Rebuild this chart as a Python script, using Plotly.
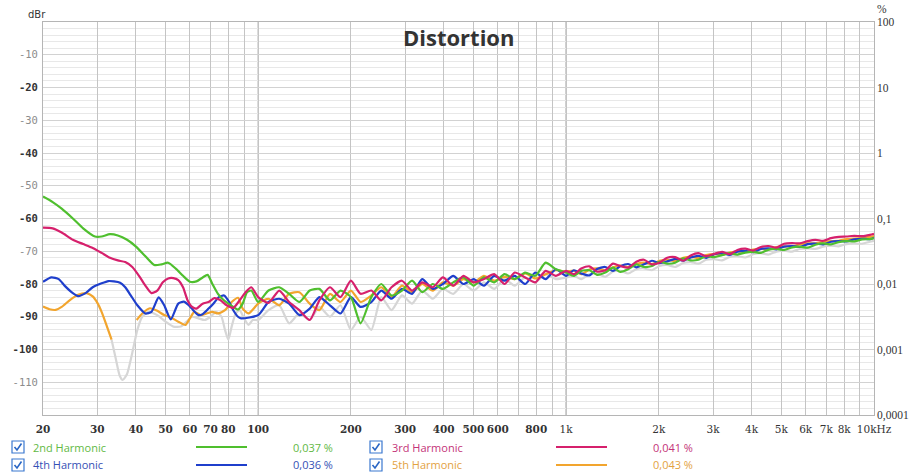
import math
import plotly.graph_objects as go

# ---------------- data ----------------
F_HI = [100, 108, 117, 126, 136, 147, 158, 171, 185, 200, 215, 233, 251, 271, 293,
        316, 341, 369, 398, 430, 464, 501, 541, 584, 631, 681, 736, 794, 858, 926,
        1000, 1060, 1120, 1190, 1260, 1340, 1420, 1500, 1590, 1690, 1790, 1900, 2010,
        2130, 2260, 2400, 2540, 2690, 2850, 3030, 3210, 3400, 3600, 3820, 4050, 4290,
        4550, 4820, 5110, 5420, 5740, 6090, 6450, 6840, 7250, 7680, 8140, 8630, 9150,
        9700, 10000]

# 2nd harmonic
H2_LO_F = [20, 21.5, 23, 25, 27, 29.5, 31, 33, 35, 37.5, 40, 43, 46, 48.5, 51, 54, 57,
           60, 63, 66, 68.5, 71, 74, 77, 80, 83, 86, 89, 92, 95]
H2_LO_DB = [-53.3, -55, -57, -60, -63, -65.5, -65.5, -64.8, -65.2, -66.5, -68.5, -71.5,
            -74.2, -74.0, -73.5, -75.3, -77.5, -79.3, -79.2, -78, -77.2, -80, -83, -84.8,
            -86, -87, -87.8, -86, -82.5, -82]
H2_HI_DB = [-85.5, -82, -81, -83, -85.5, -82, -81.5, -85, -82, -84, -92, -84, -80, -83.5,
            -82, -79, -82.5, -80, -81.5, -79.5, -78, -80.5, -78, -79.5, -77, -78.5, -76.5,
            -77.5, -73.5, -75.5,
            -76.5, -77.5, -76, -75.8, -77.2, -76.5, -75, -76.3, -75.5, -74, -74.8, -74.5,
            -73.2, -73.8, -73.5, -72.2, -72.8, -72.6, -71.5, -71.8, -71.2, -70.6, -71,
            -70.4, -70.2, -70.5, -69.5, -69.3, -69.6, -68.8, -68.6, -68.9, -68, -67.6,
            -67.9, -67.2, -66.9, -67, -66.4, -66.3, -66]

# 3rd harmonic
H3_LO_F = [20, 21.5, 23, 25, 27, 29, 31, 33, 35, 37, 39, 41, 43, 45, 47, 49, 51, 53, 55,
           57, 59, 61, 63, 66, 69, 72, 75, 79, 83, 87, 91, 95]
H3_LO_DB = [-62.8, -63, -64.3, -66.5, -67.8, -69, -70.5, -72, -72.8, -73.3, -74.8, -77.5,
            -80.5, -82.8, -82, -79.5, -78.3, -78.2, -78.8, -81, -85, -87, -87.5, -86,
            -85.5, -84.3, -84.8, -86.5, -87.3, -85, -82.5, -81]
H3_HI_DB = [-84, -85.8, -82, -85.5, -88, -91, -85, -81, -84, -79, -83, -82, -85, -81, -79,
            -82, -79.5, -81, -78, -80.5, -77.5, -79.5, -78.5, -77, -80, -76.5, -78, -79.5,
            -76, -77.5,
            -76, -77, -75.3, -74.6, -76.2, -75.8, -73.8, -74.5, -75, -73.2, -72.6, -74,
            -73.5, -72, -71.8, -72.9, -71.3, -70.6, -71.5, -70.8, -70.2, -70.9, -69.6,
            -69.2, -69.8, -68.7, -68.4, -68.9, -67.7, -67.5, -67.6, -66.9, -66.5, -66.8,
            -66, -65.6, -65.5, -65.3, -65.4, -65, -64.7]

# 4th harmonic
H4_LO_F = [20, 21.3, 22.5, 23.5, 25, 26, 27.5, 29, 31, 32.6, 34, 35.6, 37, 38.5, 40.5, 43,
           45, 47.5, 49.5, 52, 55, 57.3, 59.5, 61.5, 64, 66, 69, 71.5, 74.5, 77.5, 80.5,
           83, 86, 88]
H4_LO_DB = [-79.3, -78, -78.5, -80.5, -82.8, -83.7, -82.8, -81, -79.8, -79.1, -79.2, -79.6,
            -81, -83.4, -86.5, -89, -88.5, -84.1, -86.5, -90.8, -86, -85.4, -86.5, -88,
            -89.5, -89.2, -87.5, -86, -84, -83.5, -85.5, -88, -90, -90.5]
H4_HI_DB = [-89.5, -85.5, -84.5, -86, -89.5, -87.5, -84, -86.5, -89, -84, -87, -85.5, -82,
            -84.5, -81.5, -83, -78.5, -81.5, -80, -77.5, -80, -78.5, -80.5, -77.5, -79,
            -77.5, -80, -76.5, -78.5, -75.5,
            -77.5, -75.8, -76.8, -77.4, -75.4, -74.8, -76, -74.6, -73.9, -74.9, -74,
            -72.9, -73.6, -73.1, -72.3, -72.9, -71.9, -71.4, -72, -70.9, -70.6, -71.1,
            -70.1, -69.9, -70.3, -69.3, -69.1, -69.4, -68.6, -68.4, -68.7, -67.8, -67.7,
            -67.9, -67.1, -66.9, -67, -66.4, -66.2, -66.3, -65.9]

# 5th harmonic (None = gap where the trace drops below the noise)
H5_LO_F = [20, 21, 22, 23, 24.4, 26, 27.7, 29, 30.1, 31, 32, 33.4, 36.5, 40.3, 42, 44.5,
           47, 49.5, 52, 55, 58, 60, 62, 65, 68, 71, 74, 78, 82, 86, 89, 93]
H5_LO_DB = [-86.9, -87.7, -87.9, -87, -85, -83.3, -82.8, -83.8, -85.9, -88.5, -92, -97,
            None, -91, -89, -87.4, -88.2, -89.5, -90.2, -91.5, -92.5, -90.5, -88.5, -89.5,
            -89, -88.5, -89, -88, -85.5, -84.2, -87.5, -89]
H5_HI_DB = [-86, -84.5, -86.5, -83, -82.5, -86, -88, -83, -85.5, -82, -85.5, -83.5, -81,
            -84, -80.5, -82.5, -80, -82, -79.5, -80.5, -78.5, -79.5, -77.5, -79, -77.8,
            -78.5, -76.8, -78.3, -77, -75.8,
            -76.2, -75.9, -77, -75.6, -75.2, -75.9, -74.9, -74.4, -74.8, -73.9, -73.5,
            -73.9, -72.9, -72.6, -73, -72, -71.7, -72.1, -71.2, -70.9, -71.1, -70.4, -70,
            -70.2, -69.5, -69.3, -69.4, -68.7, -68.5, -68.6, -67.9, -67.6, -67.6, -67.1,
            -66.9, -66.8, -66.3, -66.1, -66, -65.6, -65.4]

# grey (noise-limited) trace
GR_LO_F = [33.4, 34.5, 35.5, 36.3, 37.5, 39, 40.5, 42, 44, 47, 50, 53, 56, 58.5, 61, 64,
           67, 70, 73, 76, 78, 80, 82, 84.5, 87, 90, 93, 96]
GR_LO_DB = [-97, -103, -108, -109.3, -107.5, -101, -94, -90, -88.5, -89.5, -91.5, -93,
            -93, -91.5, -90, -90.5, -91, -90, -88.5, -90, -94, -97, -93, -89, -88, -90.5,
            -92.5, -91]
GR_HI_DB = [-91, -88, -86.5, -92, -89, -91, -87, -90, -86.5, -94, -90, -94, -84, -88,
            -83.5, -86, -82, -84.5, -81.5, -83, -80, -82, -79.5, -81.5, -78.5, -80.5, -78,
            -79.5, -77, -78.5,
            -78, -77.5, -78.5, -77, -76.8, -77.8, -76.2, -76, -76.8, -75.5, -75.2, -75.8,
            -74.5, -74.2, -74.8, -73.6, -73.3, -73.8, -72.6, -72.4, -72.8, -71.7, -71.5,
            -71.9, -70.9, -70.6, -71, -70.1, -69.8, -70.1, -69.3, -69.1, -69.3, -68.6,
            -68.3, -68.5, -67.8, -67.6, -67.7, -67.1, -66.8]

SERIES_NAMES = ['2nd Harmonic', '3rd Harmonic', '4th Harmonic', '5th Harmonic']
SERIES_VALUES = ['0,037 %', '0,041 %', '0,036 %', '0,043 %']

X_TICKS = [20, 30, 40, 50, 60, 70, 80, 90, 100, 200, 300, 400, 500, 600, 700, 800, 900,
           1000, 2000, 3000, 4000, 5000, 6000, 7000, 8000, 9000, 10000]
X_LABELS = ['20', '30', '40', '50', '60', '70', '80', '', '100', '200', '300', '400',
            '500', '600', '', '800', '', '1k', '2k', '3k', '4k', '5k', '6k', '7k', '8k', '',
            '10kHz']
Y_TICKS = [-110, -100, -90, -80, -70, -60, -50, -40, -30, -20, -10]
PCT_TICKS = [100, 10, 1, 0.1, 0.01, 0.001, 0.0001]
PCT_LABELS = ['100', '10', '1', '0,1', '0,01', '0,001', '0,0001']

# ---------------- styling ----------------
W, H = 910, 476
L, R, T, B = 43, 36, 22, 61
PW, PH = W - L - R, H - T - B
XMIN, XMAX = math.log10(20), 4.0

C_GREEN = '#4fbf2e'
C_RED = '#d6206c'
C_BLUE = '#1f3fcc'
C_ORANGE = '#f2a52e'
C_GREY = '#d6d6d6'
TXT_COL = ['#62b944', '#c43378', '#3550b5', '#e3a23f']
LINE_COL = [C_GREEN, C_RED, C_BLUE, C_ORANGE]


def px(xp):
    return (xp - L) / PW


def py(yp):
    return (H - B - yp) / PH


fig = go.Figure()

fig.add_trace(go.Scatter(x=GR_LO_F + F_HI, y=GR_LO_DB + GR_HI_DB, mode='lines',
                         line=dict(color=C_GREY, width=2.2, shape='spline', smoothing=0.6),
                         showlegend=False, hoverinfo='skip'))
for f_lo, db_lo, db_hi, col, name in [
        (H5_LO_F, H5_LO_DB, H5_HI_DB, C_ORANGE, SERIES_NAMES[3]),
        (H4_LO_F, H4_LO_DB, H4_HI_DB, C_BLUE, SERIES_NAMES[2]),
        (H2_LO_F, H2_LO_DB, H2_HI_DB, C_GREEN, SERIES_NAMES[0]),
        (H3_LO_F, H3_LO_DB, H3_HI_DB, C_RED, SERIES_NAMES[1])]:
    fig.add_trace(go.Scatter(x=f_lo + F_HI, y=db_lo + db_hi, mode='lines', name=name,
                             line=dict(color=col, width=2.2, shape='spline', smoothing=0.6),
                             connectgaps=False, showlegend=False))

# invisible trace to carry the % axis
fig.add_trace(go.Scatter(x=[None], y=[None], yaxis='y2', showlegend=False,
                         hoverinfo='skip'))

y_text = []
for v in Y_TICKS:
    if v in (-20, -40, -60, -80, -90, -100):
        y_text.append('<b>%d</b>' % v)
    else:
        y_text.append('<span style="color:#8c8c8c">%d</span>' % v)

x_text = []
for t, lab in zip(X_TICKS, X_LABELS):
    if lab and t < 1000:
        x_text.append('<b>%s</b>' % lab)
    else:
        x_text.append(lab)

fig.update_layout(
    width=W, height=H,
    margin=dict(l=L, r=R, t=T, b=B, autoexpand=False),
    paper_bgcolor='white', plot_bgcolor='white',
    showlegend=False,
    xaxis=dict(type='log', range=[XMIN, XMAX], tickmode='array', tickvals=X_TICKS,
               ticktext=x_text, showgrid=True, gridcolor='#c4c4c4', gridwidth=1,
               showline=True, linecolor='#b5b5b5', mirror=True, ticks='', zeroline=False,
               automargin=False,
               tickfont=dict(family='DejaVu Serif', size=10.5, color='#333'),
               ticklabelstandoff=4),
    yaxis=dict(range=[-120, 0], tickmode='array', tickvals=Y_TICKS, ticktext=y_text,
               showgrid=True, gridcolor='#d2d2d2', gridwidth=1,
               minor=dict(tickmode='linear', tick0=0, dtick=2, showgrid=True,
                          gridcolor='#e8e8e8', ticks=''),
               showline=True, linecolor='#b5b5b5', mirror=True, ticks='', zeroline=False,
               automargin=False,
               tickfont=dict(family='DejaVu Sans Mono', size=10.5, color='#333'),
               ticklabelstandoff=2),
    yaxis2=dict(type='log', range=[-4, 2], overlaying='y', side='right', anchor='x',
                tickmode='array', tickvals=PCT_TICKS, ticktext=PCT_LABELS,
                showgrid=False, zeroline=False, showline=False, ticks='',
                automargin=False,
                tickfont=dict(family='Liberation Serif', size=11.5, color='#333'),
                ticklabelstandoff=2),
)

shapes = []
for f in (100, 1000):
    xf = (math.log10(f) - XMIN) / (XMAX - XMIN)
    shapes.append(dict(type='line', xref='paper', yref='paper', x0=xf, x1=xf, y0=0, y1=1,
                       line=dict(color='#8a8a8a', width=1), layer='below'))

annotations = [
    dict(text='<b>Distortion</b>', xref='paper', yref='paper', x=0.5, y=py(37),
         xanchor='center', yanchor='middle', showarrow=False,
         font=dict(family='Open Sans', size=22, color='#333')),
    dict(text='dBr', xref='paper', yref='paper', x=px(26), y=py(14), xanchor='left',
         yanchor='middle', showarrow=False,
         font=dict(family='DejaVu Sans', size=10, color='#333')),
    dict(text='%', xref='paper', yref='paper', x=px(875), y=py(9), xanchor='left',
         yanchor='middle', showarrow=False,
         font=dict(family='Liberation Serif', size=11.5, color='#333')),
]

# custom legend
cols = [dict(cb=18, txt=31, l0=196, l1=247, val=291),
        dict(cb=376, txt=390, l0=556, l1=607, val=651)]
rows = [447, 465]
order = [(0, 0, 0), (1, 0, 1), (2, 1, 0), (3, 1, 1)]  # (series, row, col)
for s, r, c in order:
    cy = rows[r]
    cc = cols[c]
    shapes.append(dict(type='rect', xref='paper', yref='paper',
                       x0=px(cc['cb'] - 6), x1=px(cc['cb'] + 6),
                       y0=py(cy - 6), y1=py(cy + 6),
                       line=dict(color='#3a78d0', width=1.2), fillcolor='white'))
    shapes.append(dict(type='path', xref='paper', yref='paper',
                       path='M %f,%f L %f,%f L %f,%f' % (
                           px(cc['cb'] - 3.5), py(cy), px(cc['cb'] - 1), py(cy + 3),
                           px(cc['cb'] + 3.5), py(cy - 3.5)),
                       line=dict(color='#2a66c4', width=1.6)))
    shapes.append(dict(type='line', xref='paper', yref='paper',
                       x0=px(cc['l0']), x1=px(cc['l1']), y0=py(cy), y1=py(cy),
                       line=dict(color=LINE_COL[s], width=2)))
    annotations.append(dict(text=SERIES_NAMES[s], xref='paper', yref='paper',
                            x=px(cc['txt']), y=py(cy), xanchor='left', yanchor='middle',
                            showarrow=False,
                            font=dict(family='Open Sans', size=11, color=TXT_COL[s])))
    annotations.append(dict(text=SERIES_VALUES[s], xref='paper', yref='paper',
                            x=px(cc['val']), y=py(cy), xanchor='left', yanchor='middle',
                            showarrow=False,
                            font=dict(family='Open Sans', size=11, color=TXT_COL[s])))

fig.update_layout(shapes=shapes, annotations=annotations)

fig.write_html('out.html', config={'displayModeBar': False},
               post_script="document.body.style.margin='0';"
                           "document.body.style.overflow='hidden';")
